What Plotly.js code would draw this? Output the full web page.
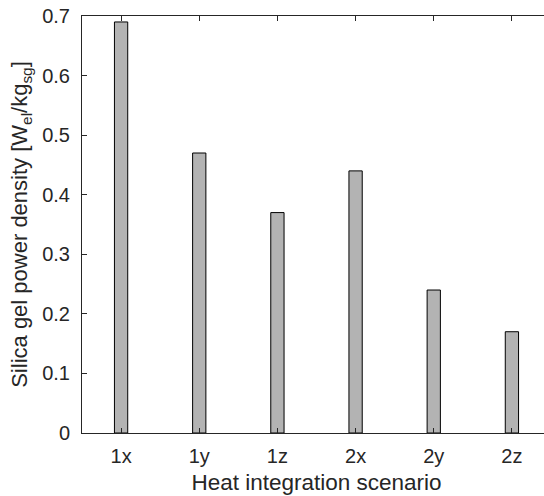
<!DOCTYPE html>
<html>
<head>
<meta charset="utf-8">
<script src="https://cdn.plot.ly/plotly-3.0.1.min.js"></script>
<style>
  html, body { margin: 0; padding: 0; background: #fff; overflow: hidden; }
  #wrap { width: 544px; height: 496px; overflow: hidden; position: relative; }
  #chart { width: 560px; height: 496px; }
</style>
</head>
<body>
<div id="wrap"><div id="chart"></div></div>
<script>
const categories = ["1x", "1y", "1z", "2x", "2y", "2z"];
const powerDensity = [0.69, 0.47, 0.37, 0.44, 0.24, 0.17];
const yTicks = [0, 0.1, 0.2, 0.3, 0.4, 0.5, 0.6, 0.7];
const yTickLabels = ["0", "0.1", "0.2", "0.3", "0.4", "0.5", "0.6", "0.7"];

const axisColor = "#262626";
const fontFamily = "'Liberation Sans', Arial, Helvetica, sans-serif";

const trace = {
  type: "bar",
  x: categories,
  y: powerDensity,
  width: 0.17,
  marker: { color: "#b3b3b3", line: { color: "#000000", width: 1 } },
  hoverinfo: "x+y"
};

const layout = {
  width: 560,
  height: 496,
  margin: { l: 82, r: 9, t: 16, b: 63 },
  paper_bgcolor: "#ffffff",
  plot_bgcolor: "#ffffff",
  showlegend: false,
  font: { family: fontFamily, color: axisColor, size: 20 },
  xaxis: {
    type: "category",
    range: [-0.5, 5.5],
    showline: true, mirror: "ticks", linecolor: axisColor, linewidth: 1,
    ticks: "inside", ticklen: 5, tickcolor: axisColor, tickwidth: 1,
    ticklabelstandoff: 5,
    showgrid: false, zeroline: false,
    tickfont: { size: 20, color: axisColor, family: fontFamily },
    title: { text: "Heat integration scenario", font: { size: 22.5, color: axisColor, family: fontFamily }, standoff: 8 }
  },
  yaxis: {
    range: [0, 0.7],
    tickmode: "array", tickvals: yTicks, ticktext: yTickLabels,
    showline: true, mirror: "ticks", linecolor: axisColor, linewidth: 1,
    ticks: "inside", ticklen: 5, tickcolor: axisColor, tickwidth: 1,
    ticklabelstandoff: 7,
    showgrid: false, zeroline: false,
    tickfont: { size: 20, color: axisColor, family: fontFamily },
    title: { text: "Silica gel power density [W<sub>el</sub>/kg<sub>sg</sub>]", font: { size: 22, color: axisColor, family: fontFamily }, standoff: 8 }
  }
};

Plotly.newPlot("chart", [trace], layout, { displayModeBar: false, staticPlot: true });
</script>
</body>
</html>
